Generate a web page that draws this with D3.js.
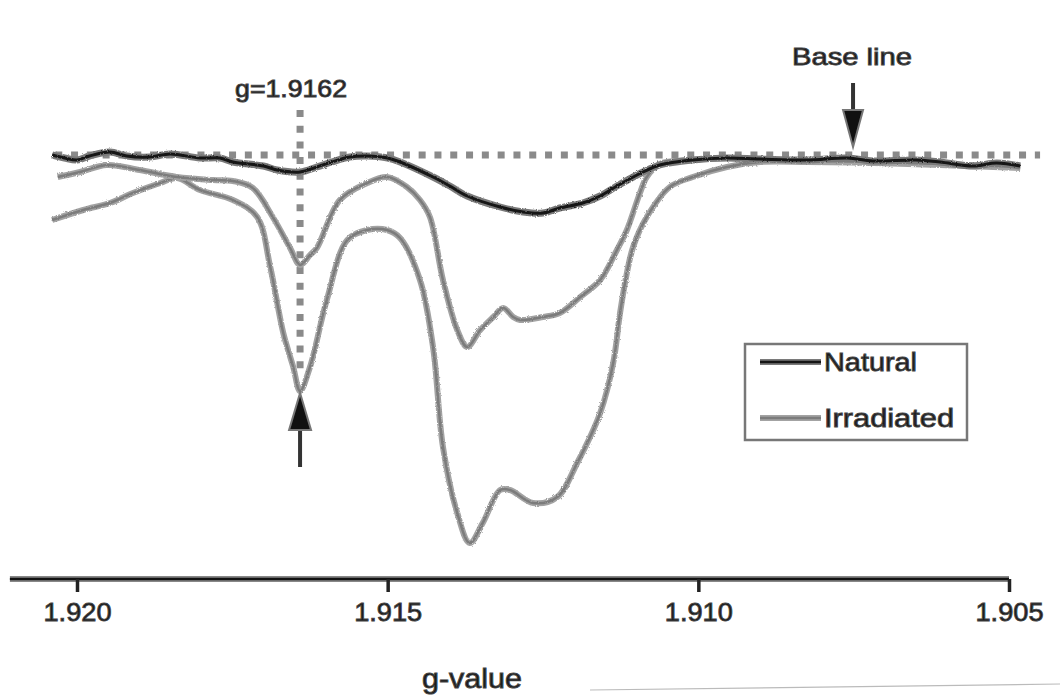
<!DOCTYPE html>
<html><head><meta charset="utf-8">
<script src="https://cdn.jsdelivr.net/npm/d3@7"></script>
<style>
body{margin:0;background:#fff}
svg{display:block}
text{font-family:"Liberation Sans",Arial,Helvetica,sans-serif;fill:#1a1a1a;stroke:#444;stroke-width:0.9px}
</style>
</head><body><svg id="c" width="1060" height="696"></svg>
<script>
// ---- data (g-value vs. relative EPR intensity, baseline = 0) ----
const naturalG = [1.92040,1.92020,1.92000,1.91980,1.91947,1.91920,1.91883,1.91850,1.91802,1.91770,1.91749,1.91700,1.91678,1.91641,1.91614,1.91590,1.91561,1.91533,1.91500,1.91480,1.91427,1.91400,1.91372,1.91319,1.91282,1.91250,1.91223,1.91186,1.91158,1.91131,1.91089,1.91062,1.91009,1.90954,1.90901,1.90825,1.90760,1.90719,1.90650,1.90611,1.90558,1.90520,1.90482];
const naturalI = [0,-0.03,-0.05,-0.01,0.03,-0.01,-0.02,0.01,-0.03,-0.03,-0.07,-0.11,-0.15,-0.17,-0.12,-0.07,-0.02,-0.01,-0.03,-0.07,-0.22,-0.31,-0.41,-0.52,-0.57,-0.58,-0.53,-0.48,-0.41,-0.31,-0.17,-0.10,-0.05,-0.03,-0.04,-0.05,-0.03,-0.06,-0.05,-0.07,-0.11,-0.08,-0.11];

const irradAG = [1.92031,1.91995,1.91952,1.91899,1.91839,1.91781,1.91749,1.91717,1.91685,1.91657,1.91641,1.91625,1.91614,1.91577,1.91533,1.91501,1.91469,1.91448,1.91432,1.91411,1.91388,1.91372,1.91351,1.91330,1.91314,1.91298,1.91287,1.91250,1.91223,1.91190,1.91158,1.91131,1.91115,1.91094,1.91083,1.91062,1.91009,1.90954,1.90901,1.90825,1.90719,1.90611,1.90482];
const irradAI = [-0.22,-0.17,-0.10,-0.15,-0.22,-0.25,-0.26,-0.33,-0.62,-0.93,-1.10,-1.00,-0.93,-0.45,-0.28,-0.22,-0.32,-0.45,-0.62,-1.25,-1.75,-1.92,-1.75,-1.62,-1.53,-1.62,-1.65,-1.62,-1.58,-1.42,-1.25,-0.95,-0.75,-0.38,-0.22,-0.09,-0.05,-0.03,-0.05,-0.06,-0.07,-0.09,-0.12];

const irradBG = [1.92040,1.91990,1.91947,1.91910,1.91866,1.91839,1.91802,1.91749,1.91710,1.91689,1.91668,1.91652,1.91641,1.91625,1.91598,1.91565,1.91533,1.91501,1.91480,1.91448,1.91427,1.91411,1.91388,1.91368,1.91347,1.91319,1.91303,1.91266,1.91227,1.91195,1.91158,1.91137,1.91126,1.91115,1.91105,1.91083,1.91046,1.91009,1.90954,1.90901,1.90825,1.90719,1.90611,1.90482];
const irradBI = [-0.65,-0.55,-0.48,-0.38,-0.28,-0.23,-0.35,-0.45,-0.62,-1.12,-1.78,-2.12,-2.36,-2.12,-1.45,-0.85,-0.75,-0.75,-0.83,-1.25,-1.92,-2.92,-3.58,-3.88,-3.68,-3.35,-3.35,-3.48,-3.42,-3.08,-2.58,-2.08,-1.58,-1.18,-0.92,-0.62,-0.32,-0.22,-0.12,-0.07,-0.07,-0.08,-0.10,-0.13];

const tickValues = [1.920, 1.915, 1.910, 1.905];
const tickLabels = ["1.920", "1.915", "1.910", "1.905"];
const seriesNames = ["Natural", "Irradiated"];
const peakG = 1.91641;            // marked resonance position
const peakLabel = "g=1.9162";
const baseArrowG = 1.90751;
const baseLabel = "Base line";
const baselineSpan = [1.92035, 1.90450];
const axisSpan = [1.92108, 1.905];
const axisTitle = "g-value";

// ---- scales ----
const svg = d3.select("#c");
const x = d3.scaleLinear().domain([1.920, 1.905]).range([77, 1009]);
const y = d3.scaleLinear().domain([0, -4]).range([155, 555]);

const defs = svg.append("defs");
const f = defs.append("filter").attr("id","rough").attr("x","-5%").attr("y","-5%").attr("width","110%").attr("height","110%");
f.append("feTurbulence").attr("type","fractalNoise").attr("baseFrequency","0.8").attr("numOctaves",2).attr("seed",4).attr("result","n");
f.append("feDisplacementMap").attr("in","SourceGraphic").attr("in2","n").attr("scale",2.6);

const line = d3.line().x(d => x(d[0])).y(d => y(d[1])).curve(d3.curveCatmullRom.alpha(0.5));
const zip = (a, b) => a.map((g, i) => [g, b[i]]);

// baseline dotted
svg.append("line")
  .attr("x1", x(baselineSpan[0])).attr("x2", x(baselineSpan[1]))
  .attr("y1", y(0)).attr("y2", y(0))
  .attr("stroke", "#8a8a8a").attr("stroke-width", 7).attr("stroke-dasharray", "7 8.8");

// vertical dotted marker
svg.append("line")
  .attr("x1", x(peakG)).attr("x2", x(peakG))
  .attr("y1", 110).attr("y2", 376)
  .attr("stroke", "#8a8a8a").attr("stroke-width", 7).attr("stroke-dasharray", "7 8.7");

const gCurves = svg.append("g").attr("filter", "url(#rough)");
[zip(irradBG, irradBI), zip(irradAG, irradAI)].forEach(d => {
  gCurves.append("path").datum(d).attr("d", line).attr("fill","none")
    .attr("stroke","#a3a3a3").attr("stroke-width",6).attr("stroke-linejoin","round");
  gCurves.append("path").datum(d).attr("d", line).attr("fill","none")
    .attr("stroke","#7c7c7c").attr("stroke-width",2.5).attr("stroke-linejoin","round");
});
const nat = zip(naturalG, naturalI);
gCurves.append("path").datum(nat).attr("d", line).attr("fill","none")
  .attr("stroke","#7a7a7a").attr("stroke-width",7).attr("stroke-linejoin","round");
gCurves.append("path").datum(nat).attr("d", line).attr("fill","none")
  .attr("stroke","#151515").attr("stroke-width",3).attr("stroke-linejoin","round");

// x axis
const axisG = svg.append("g").attr("transform", "translate(0,579)");
axisG.append("line").attr("x1", x(axisSpan[0])).attr("x2", x(axisSpan[1]))
  .attr("stroke","#888").attr("stroke-width",6);
axisG.append("line").attr("x1", x(axisSpan[0])).attr("x2", x(axisSpan[1]))
  .attr("stroke","#111").attr("stroke-width",2.5);
const ax = d3.axisBottom(x).tickValues(tickValues).tickSize(13).tickPadding(11)
  .tickFormat((d, i) => tickLabels[i]);
axisG.call(ax);
axisG.select(".domain").remove();
axisG.selectAll(".tick line").attr("stroke","#222").attr("stroke-width",3.5);
axisG.selectAll(".tick text").attr("font-size",26).attr("font-family",null)
  .attr("textLength",68).attr("lengthAdjust","spacingAndGlyphs").attr("fill","#1a1a1a");

svg.append("text").attr("x", 472).attr("y", 688).attr("text-anchor","middle")
  .attr("font-size",27).attr("textLength",100).attr("lengthAdjust","spacingAndGlyphs").text(axisTitle);

// annotation labels
svg.append("text").attr("x", x(peakG) - 9).attr("y", 97).attr("text-anchor","middle")
  .attr("font-size",23).attr("textLength",112).attr("lengthAdjust","spacingAndGlyphs").text(peakLabel);
svg.append("text").attr("x", 852).attr("y", 65).attr("text-anchor","middle")
  .attr("font-size",24).attr("textLength",120).attr("lengthAdjust","spacingAndGlyphs").text(baseLabel);

// arrows
const bx = x(baseArrowG);
svg.append("line").attr("x1",bx).attr("x2",bx).attr("y1",83).attr("y2",114).attr("stroke","#333").attr("stroke-width",4);
svg.append("path").attr("d", `M${bx-10},110 L${bx+10},110 L${bx},147 Z`).attr("fill","#111").attr("stroke","#777").attr("stroke-width",2);
const px = x(peakG);
svg.append("line").attr("x1",px).attr("x2",px).attr("y1",428).attr("y2",467).attr("stroke","#333").attr("stroke-width",4);
svg.append("path").attr("d", `M${px},393 L${px+11},430 L${px-11},430 Z`).attr("fill","#111").attr("stroke","#777").attr("stroke-width",2);

// legend
const lg = svg.append("g");
lg.append("rect").attr("x",745).attr("y",344).attr("width",222).attr("height",96)
  .attr("fill","#fff").attr("stroke","#777").attr("stroke-width",2.5);
lg.append("line").attr("x1",760).attr("x2",821).attr("y1",362).attr("y2",362).attr("stroke","#7a7a7a").attr("stroke-width",6);
lg.append("line").attr("x1",760).attr("x2",821).attr("y1",362).attr("y2",362).attr("stroke","#151515").attr("stroke-width",2.6);
lg.append("line").attr("x1",760).attr("x2",821).attr("y1",418).attr("y2",418).attr("stroke","#a3a3a3").attr("stroke-width",6);
lg.append("line").attr("x1",760).attr("x2",821).attr("y1",418).attr("y2",418).attr("stroke","#7c7c7c").attr("stroke-width",2.5);
lg.append("text").attr("x",824).attr("y",371).attr("font-size",25).attr("textLength",93).attr("lengthAdjust","spacingAndGlyphs").text(seriesNames[0]);
lg.append("text").attr("x",824).attr("y",427).attr("font-size",25).attr("textLength",130).attr("lengthAdjust","spacingAndGlyphs").text(seriesNames[1]);

// faint scan edge at bottom right
svg.append("line").attr("x1",590).attr("y1",690).attr("x2",1060).attr("y2",684).attr("stroke","#bbb").attr("stroke-width",1.2);
</script>
</body></html>
